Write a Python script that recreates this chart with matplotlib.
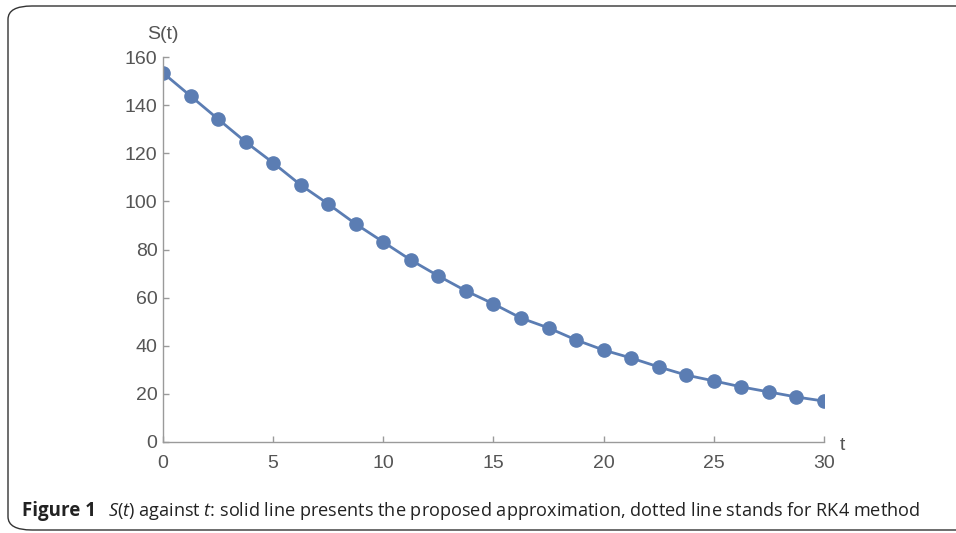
import numpy as np
import matplotlib.pyplot as plt
from matplotlib.patches import FancyBboxPatch

# data
t_vals = [0, 1.25, 2.5, 3.75, 5, 6.25, 7.5, 8.75, 10, 11.25, 12.5, 13.75, 15,
          16.25, 17.5, 18.75, 20, 21.25, 22.5, 23.75, 25, 26.25, 27.5, 28.75, 30]
s_vals = [153.4, 143.8, 134.2, 124.7, 116.0, 106.8, 98.9, 90.6, 83.1, 75.6,
          69.0, 62.8, 57.4, 51.5, 47.4, 42.4, 38.2, 34.9, 31.2, 27.8, 25.4,
          22.9, 20.8, 18.7, 17.0]
x_ticks = [0, 5, 10, 15, 20, 25, 30]
y_ticks = [0, 20, 40, 60, 80, 100, 120, 140, 160]

plt.rcParams['font.family'] = ['Liberation Sans', 'DejaVu Sans']
plt.rcParams['mathtext.fontset'] = 'custom'
plt.rcParams['mathtext.rm'] = 'Open Sans'
plt.rcParams['mathtext.it'] = 'Open Sans:italic'

W, H = 956, 533
fig = plt.figure(figsize=(W / 100, H / 100), dpi=100)

# rounded frame, open to the right
frame = FancyBboxPatch((8 / W, 3 / H), 1.2, (530 - 3 - 3) / H,
                       boxstyle="round,pad=0,rounding_size=0.025",
                       transform=fig.transFigure, fill=False,
                       edgecolor='#333333', linewidth=1.0, zorder=0)
fig.patches.append(frame)

ax = fig.add_axes([163 / W, 1 - 442 / H, (824 - 163) / W, (442 - 57) / H])
ax.set_facecolor('none')

line_col = '#5b7db3'
ax.plot(t_vals, s_vals, '-o', color=line_col, lw=2.0, markersize=9.5)

ax.set_xlim(0, 30)
ax.set_ylim(0, 160)
ax.set_xticks(x_ticks)
ax.set_yticks(y_ticks)

grey = '#9a9a9a'
for side in ['top', 'right']:
    ax.spines[side].set_visible(False)
for side in ['left', 'bottom']:
    ax.spines[side].set_color(grey)
    ax.spines[side].set_linewidth(1.0)
ax.tick_params(direction='in', length=4, width=1.0, color=grey,
               labelcolor='#555555', labelsize=14)
ax.tick_params(axis='y', pad=4)
ax.tick_params(axis='x', pad=9)

ax.text(0, 166, 'S(t)', ha='center', va='bottom', fontsize=14,
        color='#555555', clip_on=False)
ax.text(30.7, -1.5, 't', ha='left', va='center', fontsize=14,
        color='#555555', clip_on=False)

# caption
fig.text(22 / W, 1 - 511 / H, 'Figure 1', fontsize=13.5, fontweight='bold',
         family='Open Sans', va='center', color='#222222')
fig.text(108 / W, 1 - 511 / H,
         r'$S$($t$) against $t$: solid line presents the proposed approximation, '
         'dotted line stands for RK4 method',
         fontsize=13.1, family='Open Sans', va='center', color='#222222')

fig.savefig('out.png', dpi=100)
